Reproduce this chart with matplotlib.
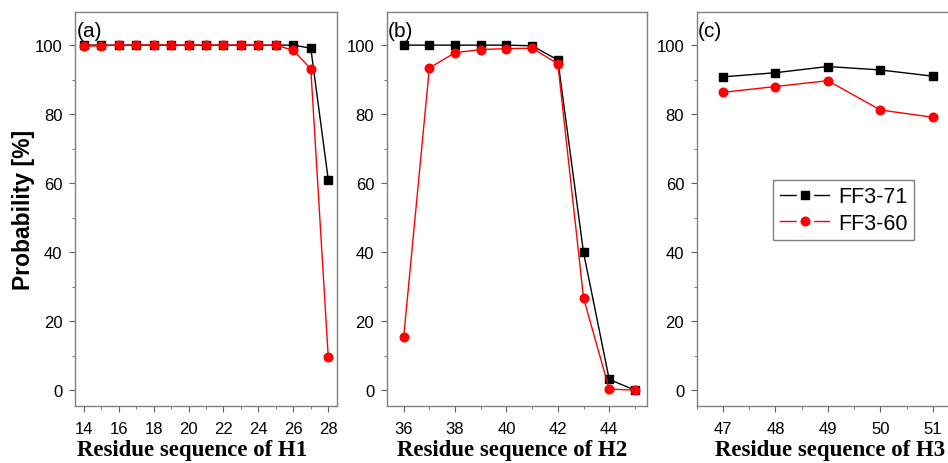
import numpy as np
import matplotlib.pyplot as plt
from matplotlib.lines import Line2D
from matplotlib.ticker import MultipleLocator

# residue numbers per helix
res_h1 = list(range(14, 29))
res_h2 = list(range(36, 46))
res_h3 = list(range(47, 52))

# FF3-71 (black squares)
ff371_h1 = [100, 100, 100, 100, 100, 100, 100, 100, 100, 100, 100, 100, 100, 99.1, 61.0]
ff371_h2 = [100, 100, 100, 100, 100, 99.8, 95.7, 39.9, 3.1, 0.0]
ff371_h3 = [90.8, 92.0, 93.8, 92.8, 91.0]

# FF3-60 (red circles)
ff360_h1 = [99.7, 99.8, 100, 100, 100, 100, 100, 100, 100, 100, 100, 100, 98.5, 93.1, 9.5]
ff360_h2 = [15.3, 93.4, 97.8, 98.7, 99.0, 99.1, 94.6, 26.7, 0.3, 0.0]
ff360_h3 = [86.3, 88.0, 89.7, 81.2, 79.1]

panel_tags = ['(a)', '(b)', '(c)']
xlabels = ['Residue sequence of H1', 'Residue sequence of H2', 'Residue sequence of H3']

plt.rcParams['font.family'] = ['Liberation Sans', 'DejaVu Sans']

fig = plt.figure(figsize=(9.48, 4.64), dpi=100)
W, H = 948, 464
boxes = [(75, 337), (386.7, 647), (696.7, 959)]
top, bot = 13, 407
axes = [fig.add_axes([l / W, 1 - bot / H, (r - l) / W, (bot - top) / H]) for l, r in boxes]

data = [(res_h1, ff371_h1, ff360_h1), (res_h2, ff371_h2, ff360_h2), (res_h3, ff371_h3, ff360_h3)]
xlims = [(13.5, 28.5), (35.34, 45.47), (46.5, 51.5)]
majors = [2, 2, 1]
label_x = [0.447, 0.481, 0.51]

for i, ax in enumerate(axes):
    x, yb, yr = data[i]
    ax.plot(x, yb, '-s', color='black', lw=1, ms=5.3)
    ax.plot(x, yr, '-o', color='red', lw=1, ms=6.2)
    ax.set_xlim(*xlims[i])
    ax.set_ylim(-4.6, 109.6)
    ax.xaxis.set_major_locator(MultipleLocator(majors[i]))
    ax.xaxis.set_minor_locator(MultipleLocator(majors[i] / 2))
    ax.yaxis.set_major_locator(MultipleLocator(20))
    ax.yaxis.set_minor_locator(MultipleLocator(10))
    ax.tick_params(which='both', direction='out', color='#606060', labelsize=12)
    ax.tick_params(which='major', length=4)
    ax.tick_params(axis='x', pad=6.5)
    ax.tick_params(axis='y', pad=5)
    ax.tick_params(which='minor', length=2.5)
    for sp in ax.spines.values():
        sp.set_color('#808080')
        sp.set_linewidth(1)
    ax.set_xlabel(xlabels[i], family='Liberation Serif', fontweight='bold', fontsize=16.5)
    ax.xaxis.set_label_coords(label_x[i], -0.085)
    ax.xaxis.label.set_va('top')
    ax.text(0.005, 0.978, panel_tags[i], transform=ax.transAxes, fontsize=15, va='top', ha='left')

axes[0].set_ylabel('Probability [%]', fontweight='bold', fontsize=16.5, labelpad=0)

# legend handles drawn Origin-style: line, gap, marker, gap, line
# (a white marker under the real one opens the gap in the line)
def origin_handle(color, marker, ms):
    ln = Line2D([], [], color=color, lw=1)
    gap = Line2D([], [], ls='none', marker='s', ms=11.5, mfc='white', mec='white')
    mk = Line2D([], [], ls='none', marker=marker, ms=ms, color=color)
    return (ln, gap, mk)

leg = axes[2].legend([origin_handle('black', 's', 5.3), origin_handle('red', 'o', 6.2)],
                     ['FF3-71', 'FF3-60'], loc='upper left', bbox_to_anchor=(0.292, 0.574),
                     fontsize=15.5, handlelength=2.3, numpoints=1,
                     frameon=True, fancybox=False, edgecolor='#606060', borderpad=0.3,
                     labelspacing=0.25, handletextpad=0.4, borderaxespad=0)
leg.get_frame().set_linewidth(1)

fig.savefig('out.png', dpi=100)
